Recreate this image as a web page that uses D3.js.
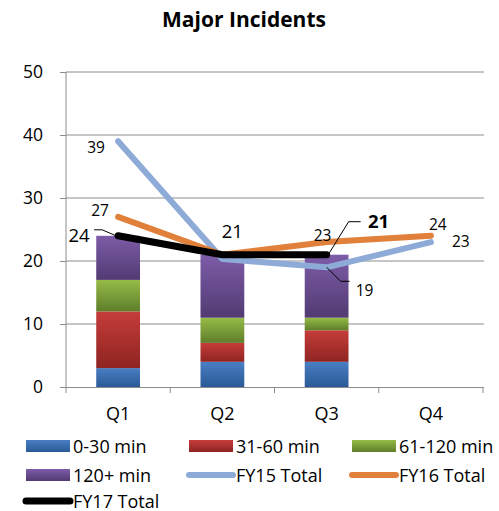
<!DOCTYPE html>
<html><head><meta charset="utf-8">
<script src="https://cdn.jsdelivr.net/npm/d3@7"></script>
<style>body{margin:0;background:#fff}svg{display:block}text{font-family:"Open Sans",sans-serif}</style>
</head><body>
<script>
const categories = ["Q1","Q2","Q3","Q4"];
const seriesNames = ["0-30 min","31-60 min","61-120 min","120+ min"];
const v0_30 = [3,4,4,null];
const v31_60 = [9,3,5,null];
const v61_120 = [5,4,2,null];
const v120p = [7,10,10,null];
const fy15 = [39,20.3,19,23];
const fy16 = [27,21,23,24];
const fy17 = [24,21,21,null];
const yTicks = [0,10,20,30,40,50];

const FONT='"Open Sans",sans-serif';
const W=499,H=511;
const svg=d3.select("body").append("svg").attr("width",W).attr("height",H);
const defs=svg.append("defs");
const barColors=[["#4a7ec4","#2a5a96"],["#c63d3a","#8e2422"],["#96bb48","#5f7e2a"],["#7d5ca8","#523a72"]];
barColors.forEach((c,i)=>{
  const g=defs.append("linearGradient").attr("id","g"+i).attr("x1",0).attr("y1",0).attr("x2",0).attr("y2",1);
  g.append("stop").attr("offset","0%").attr("stop-color",c[0]);
  g.append("stop").attr("offset","100%").attr("stop-color",c[1]);
});

const x=d3.scaleBand().domain(categories).range([66,483]).paddingInner(0.58).paddingOuter(0.29);
const xc=d=>x(d)+x.bandwidth()/2;
const y=d3.scaleLinear().domain([0,50]).range([387,72]);

svg.append("text").attr("x",244).attr("y",27).attr("text-anchor","middle").attr("font-size",21).attr("font-weight","bold").text("Major Incidents");

// gridlines
svg.append("g").selectAll("line").data(yTicks.filter(t=>t>0)).join("line")
  .attr("x1",66).attr("x2",484).attr("y1",d=>y(d)).attr("y2",d=>y(d)).attr("stroke","#8c8c8c").attr("stroke-width",1);

// y axis
const ya=svg.append("g").attr("transform","translate(66,0)").call(d3.axisLeft(y).tickValues(yTicks).tickSize(6).tickPadding(17));
ya.select(".domain").attr("stroke","#8c8c8c").attr("d","M0,72V387");
ya.selectAll(".tick line").attr("stroke","#8c8c8c");
ya.selectAll(".tick text").attr("font-size",17.5).attr("fill","#000").style("font-family",FONT);

// x axis
svg.append("line").attr("x1",66).attr("x2",484).attr("y1",387.5).attr("y2",387.5).attr("stroke","#8c8c8c");
const bounds=d3.range(5).map(i=>66+i*x.step());
svg.append("g").selectAll("line").data(bounds).join("line")
  .attr("x1",d=>d).attr("x2",d=>d).attr("y1",387).attr("y2",393).attr("stroke","#8c8c8c");
svg.append("g").selectAll("text").data(categories).join("text")
  .attr("x",d=>xc(d)).attr("y",420).attr("text-anchor","middle").attr("font-size",18).text(d=>d);

// stacked bars
const rows=categories.map((c,i)=>({cat:c,a:v0_30[i]||0,b:v31_60[i]||0,c:v61_120[i]||0,d:v120p[i]||0}));
const stack=d3.stack().keys(["a","b","c","d"])(rows);
stack.forEach((s,i)=>{
  svg.append("g").selectAll("rect").data(s).join("rect")
    .attr("x",d=>x(d.data.cat)).attr("width",x.bandwidth())
    .attr("y",d=>y(d[1])).attr("height",d=>y(d[0])-y(d[1]))
    .attr("fill","url(#g"+i+")");
});

// lines
function drawLine(vals,color,w){
  const pts=categories.map((c,i)=>[c,vals[i]]).filter(p=>p[1]!=null);
  svg.append("path").attr("d",d3.line().x(p=>xc(p[0])).y(p=>y(p[1]))(pts))
    .attr("fill","none").attr("stroke",color).attr("stroke-width",w).attr("stroke-linecap","round").attr("stroke-linejoin","round");
}
drawLine(fy15,"#8eaad6",6);
drawLine(fy16,"#e0803a",6);
drawLine(fy17,"#000",7);

// labels
function lab(cx,cy,t,size,bold,anchor){
  svg.append("text").attr("x",cx).attr("y",cy).attr("font-size",size).attr("font-weight",bold?"bold":"normal").attr("text-anchor",anchor||"middle").text(t);
}
// FY15
lab(xc("Q1")-22,y(fy15[0])+12,fy15[0],15.5);
lab(xc("Q3")+38,y(fy15[2])+29,fy15[2],15.5);
lab(xc("Q4")+30,y(fy15[3])+5,fy15[3],15.5);
// FY16
lab(xc("Q1")-18,y(fy16[0])-1,fy16[0],15.5);
lab(xc("Q3")-4,y(fy16[2])-1,fy16[2],15.5);
lab(xc("Q4")+7,y(fy16[3])-6,fy16[3],15.5);
// FY17
lab(xc("Q1")-39,y(fy17[0])+6,fy17[0],18.5);
lab(xc("Q2")+10,y(fy17[1])-17,fy17[1],18.5);
lab(xc("Q3")+52,y(21)-27,21,18.5,true);
// leader lines
svg.append("path").attr("d",`M${xc("Q1")-24},${y(24)-6}H${xc("Q1")-16}L${xc("Q1")-2},${y(24)}`).attr("fill","none").attr("stroke","#000").attr("stroke-width",1);
svg.append("path").attr("d",`M${xc("Q3")+1},${y(21)+1}L${xc("Q3")+22},${y(21)-33}H${xc("Q3")+34}`).attr("fill","none").attr("stroke","#000").attr("stroke-width",1);
svg.append("path").attr("d",`M${xc("Q3")},${y(19)}L${xc("Q3")+14},${y(19)+14}H${xc("Q3")+23}`).attr("fill","none").attr("stroke","#000").attr("stroke-width",1);

// legend
const legend=[
  {name:seriesNames[0],type:"rect",c:"url(#g0)",x:26,y:446},
  {name:seriesNames[1],type:"rect",c:"url(#g1)",x:189,y:446},
  {name:seriesNames[2],type:"rect",c:"url(#g2)",x:352,y:446},
  {name:seriesNames[3],type:"rect",c:"url(#g3)",x:26,y:475},
  {name:"FY15 Total",type:"line",c:"#8eaad6",x:189,y:475,w:6},
  {name:"FY16 Total",type:"line",c:"#e0803a",x:352,y:475,w:6},
  {name:"FY17 Total",type:"line",c:"#000",x:26,y:501,w:7}
];
const lg=svg.append("g");
legend.forEach(l=>{
  if(l.type=="rect") lg.append("rect").attr("x",l.x).attr("y",l.y-6).attr("width",44).attr("height",12).attr("fill",l.c);
  else lg.append("line").attr("x1",l.x).attr("x2",l.x+44).attr("y1",l.y).attr("y2",l.y).attr("stroke",l.c).attr("stroke-width",l.w).attr("stroke-linecap","round");
  lg.append("text").attr("x",l.x+47).attr("y",l.y+6.5).attr("font-size",18).text(l.name);
});
</script>
</body></html>
